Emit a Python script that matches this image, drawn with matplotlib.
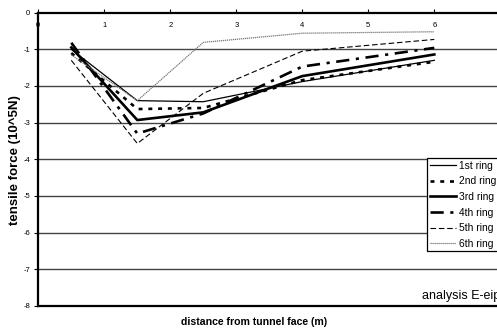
import numpy as np
import matplotlib
matplotlib.use("Agg")
import matplotlib.pyplot as plt

plt.rcParams.update({"font.family": "Liberation Sans", "font.size": 6})

# distance from tunnel face (m)
dist = [0.5, 1.5, 2.5, 4, 6]
# tensile force (10^5 N) per ring
ring1 = [-1.00, -2.40, -2.43, -1.88, -1.30]
ring2 = [-1.10, -2.63, -2.60, -1.84, -1.34]
ring3 = [-0.95, -2.93, -2.72, -1.73, -1.14]
ring4 = [-0.82, -3.30, -2.75, -1.47, -0.96]
ring5 = [-1.30, -3.57, -2.20, -1.05, -0.73]
ring6 = [-1.15, -2.40, -0.81, -0.56, -0.52]
labels = ["1st ring", "2nd ring", "3rd ring", "4th ring", "5th ring", "6th ring"]
yticks = [0, -1, -2, -3, -4, -5, -6, -7, -8]
xticks = [0, 1, 2, 3, 4, 5, 6]

W, H = 497, 332
fig = plt.figure(figsize=(W / 100, H / 100), dpi=100)
x0, x1 = 38.3, 38.3 + 8 * 66.0
ytop, ybot = 12.7, 305.8
ax = fig.add_axes([x0 / W, 1 - ybot / H, (x1 - x0) / W, (ybot - ytop) / H])
ax.set_xlim(0, 8)
ax.set_ylim(-8, 0)

for v in range(-7, 0):
    ax.axhline(v, color="#444444", lw=1.0, zorder=1)

styles = [
    dict(color="black", lw=0.9, ls="-"),
    dict(color="black", lw=1.9, ls=(0, (1.5, 2.2))),
    dict(color="black", lw=1.9, ls="-"),
    dict(color="black", lw=1.9, ls=(0, (5, 2.5, 1.2, 2.5))),
    dict(color="black", lw=0.8, ls=(0, (5, 2.5))),
    dict(color="#777777", lw=0.9, ls=(0, (1, 0.6))),
]
for ys, lab, st in zip([ring1, ring2, ring3, ring4, ring5, ring6], labels, styles):
    ax.plot(dist, ys, label=lab, zorder=3, **st)

ax.spines["right"].set_visible(False)
ax.spines["bottom"].set_linewidth(1.6)
ax.spines["left"].set_linewidth(1.6)
ax.spines["top"].set_linewidth(1.6)
ax.xaxis.tick_top()
ax.set_xticks(xticks)
ax.set_xticklabels([str(t) for t in xticks])
ax.tick_params(axis="x", direction="out", length=3, width=0.8, pad=-14.5, labelsize=5.5)
ax.set_yticks(yticks)
ax.set_yticklabels([str(t) for t in yticks])
ax.tick_params(axis="y", direction="out", length=3, width=0.8, pad=3, labelsize=5.5)

leg = fig.legend(loc="upper left", bbox_to_anchor=(427 / W, 1 - 158 / H),
                 fontsize=7.4, frameon=True, fancybox=False, edgecolor="black",
                 framealpha=1, handlelength=2.6, labelspacing=0.55,
                 handletextpad=0.3, borderpad=0.25, borderaxespad=0)
leg.get_frame().set_linewidth(0.9)

fig.text(422 / W, 1 - 296 / H, "analysis E-eip", fontsize=9, va="center", ha="left")
fig.text(254 / W, 1 - 322 / H, "distance from tunnel face (m)", fontsize=7.6,
         fontweight="bold", ha="center", va="center")
fig.text(15 / W, 1 - 160 / H, "tensile force (10^5N)", fontsize=9.5,
         fontweight="bold", rotation=90, ha="center", va="center")

fig.savefig("out.png", dpi=100)
